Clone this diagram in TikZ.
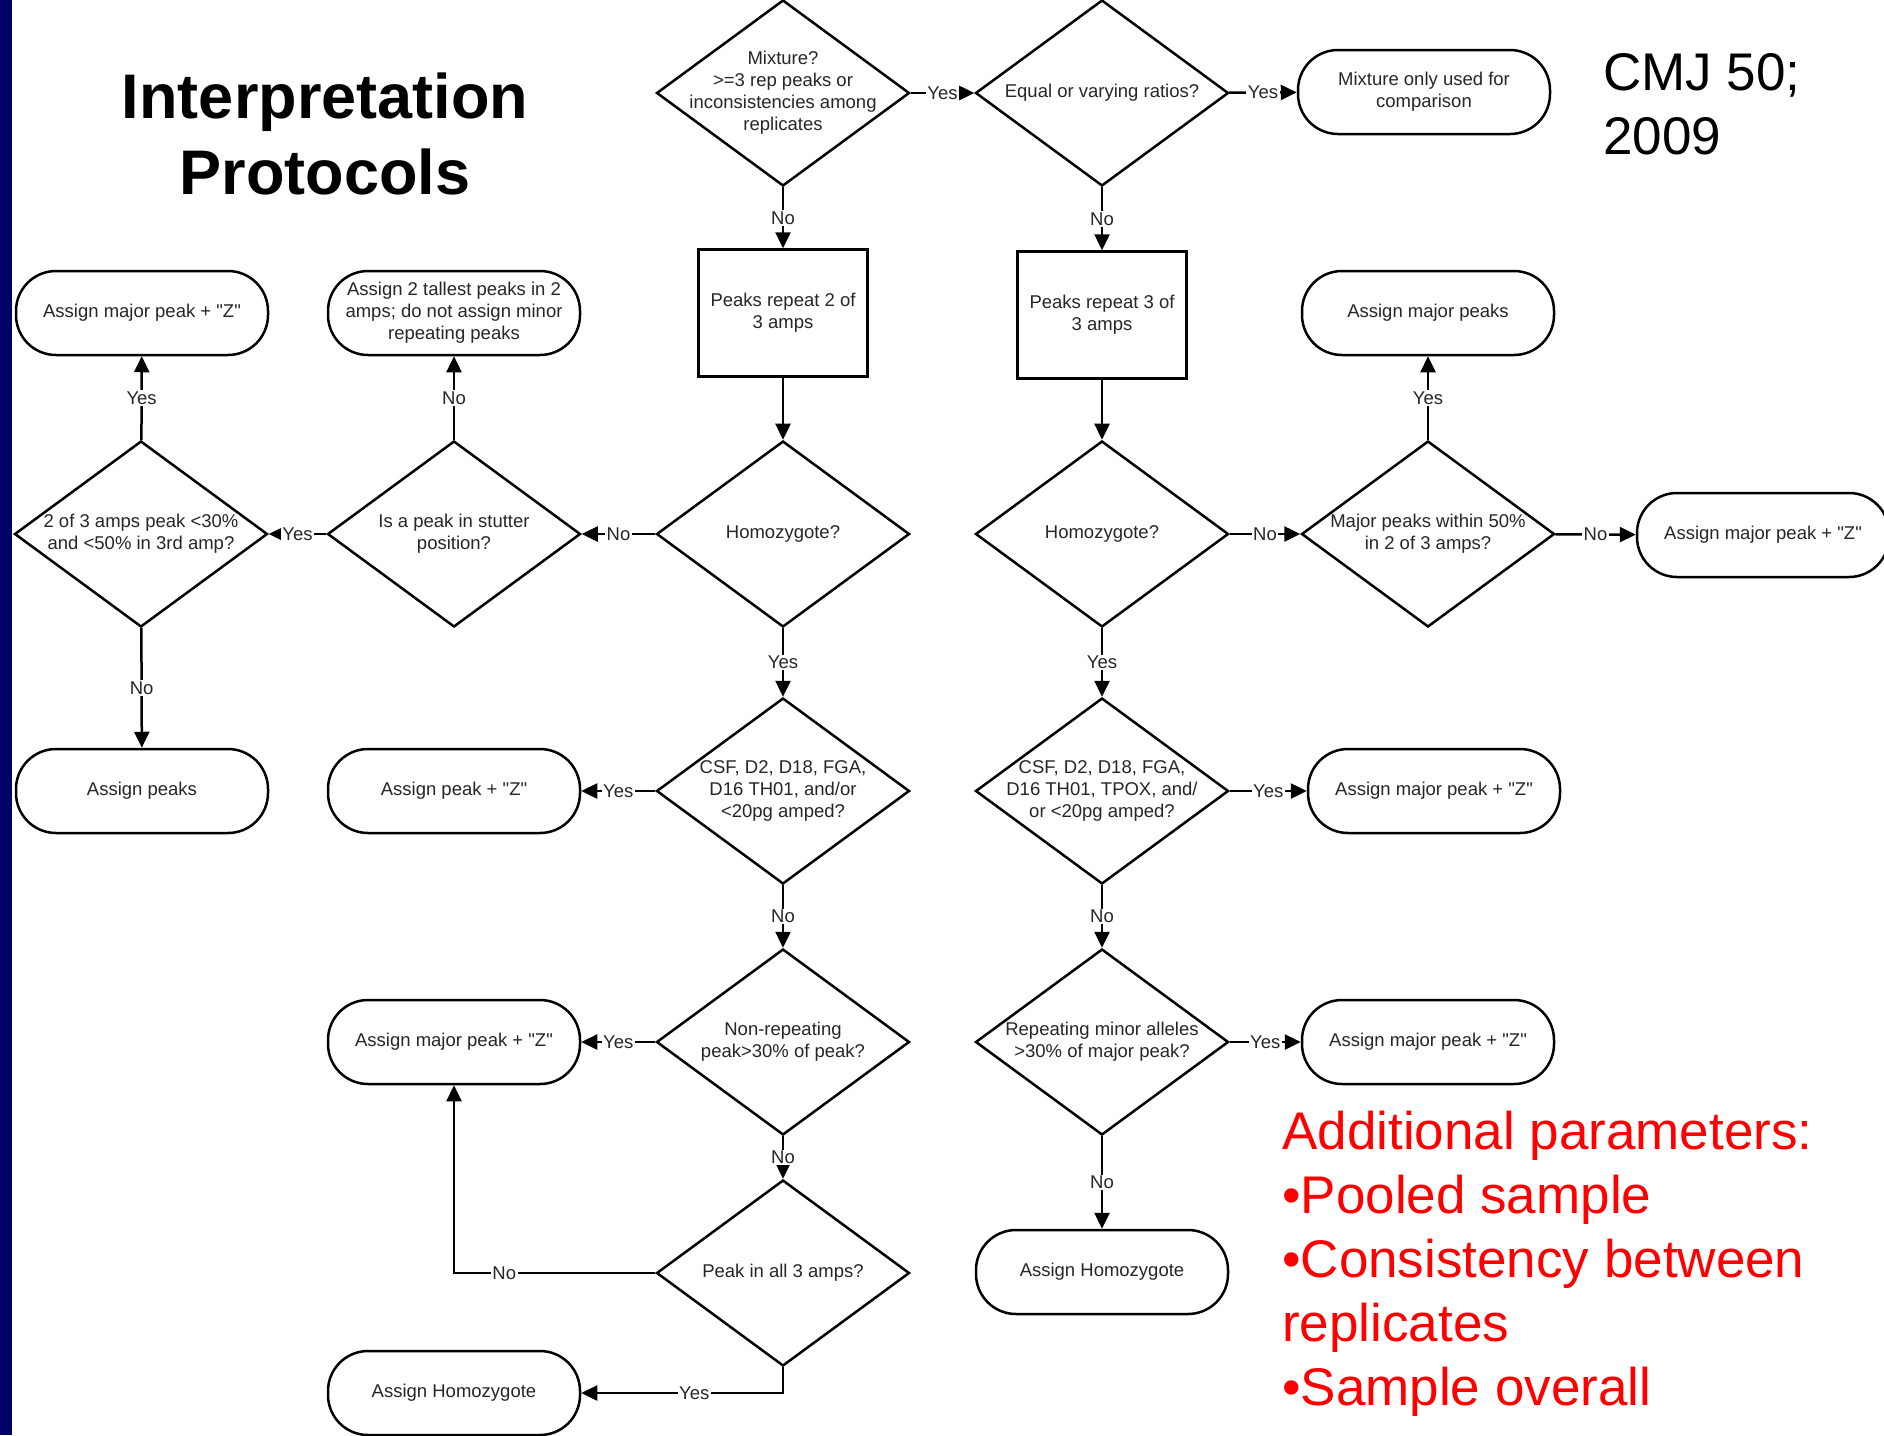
\documentclass[tikz,border=0pt]{standalone}
\usepackage{fontspec}
\setmainfont{Liberation Sans}[Ligatures=TeXOff]
\usetikzlibrary{arrows.meta,shapes.geometric}
\definecolor{barblue}{HTML}{000066}
\definecolor{notered}{HTML}{FF0000}
\newcommand{\flowsize}{\fontsize{18.5}{22}\selectfont}
\newcommand{\bigsize}{\fontsize{53}{64}\selectfont}

\begin{document}
\begin{tikzpicture}[x=1pt, y=-1pt,
  term/.style={draw, line width=2.5pt, rounded corners=40pt, minimum width=252pt, minimum height=84pt, align=center, font=\flowsize, text=black!85},
  proc/.style={draw, line width=2.5pt, minimum width=169pt, minimum height=127pt, align=center, font=\flowsize, text=black!85},
  decide/.style={draw, diamond, line width=2.5pt, minimum width=253pt, minimum height=186pt, inner sep=0pt, label={[font=\flowsize, text=black!85, align=center, inner sep=0pt]center:#1}},
  arrow/.style={-{Triangle[length=16pt, width=15pt]}, line width=2.5pt},
  ans/.style={fill=white, inner sep=1.5pt, font=\flowsize, text=black!85}
]
  % page and side bar
  \fill[white] (0,0) rectangle (1884,1435);
  \useasboundingbox (0,0) rectangle (1884,1435);
  \fill[barblue] (0,0) rectangle (12,1435);

  % headings
  \node[font=\bfseries\fontsize{63}{76}\selectfont, align=center, inner sep=0pt] (title) at (325,134) {Interpretation\\Protocols};
  \node[font=\bigsize, align=left, anchor=north west, inner sep=0pt] (cite) at (1603,53) {CMJ 50;\\2009};
  \node[font=\bigsize, text=notered, align=left, anchor=north west, inner sep=0pt] (extra) at (1282,1111)
    {Additional parameters:\\•Pooled sample\\•Consistency between\\replicates\\•Sample overall};

  % top row
  \node[decide={Mixture?\\>=3 rep peaks or\\inconsistencies among\\replicates}] (mix) at (783,93) {};
  \node[decide={Equal or varying ratios?}] (ratio) at (1102,93) {};
  \node[term] (mixonly) at (1424,92) {Mixture only used for\\comparison};

  % second row
  \node[term] (zmajA) at (142,313) {Assign major peak + "Z"};
  \node[term] (tallest) at (454,313) {Assign 2 tallest peaks in 2\\amps; do not assign minor\\repeating peaks};
  \node[proc] (rep2) at (783,313) {Peaks repeat 2 of\\3 amps};
  \node[proc] (rep3) at (1102,315) {Peaks repeat 3 of\\3 amps};
  \node[term] (majpk) at (1428,313) {Assign major peaks};

  % third row
  \node[decide={2 of 3 amps peak <30\%\\and <50\% in 3rd amp?}] (twoof3) at (141,534) {};
  \node[decide={Is a peak in stutter\\position?}] (stutter) at (454,534) {};
  \node[decide={Homozygote?}] (homoA) at (783,534) {};
  \node[decide={Homozygote?}] (homoB) at (1102,534) {};
  \node[decide={Major peaks within 50\%\\in 2 of 3 amps?}] (within) at (1428,534) {};
  \node[term] (zmajB) at (1763,535) {Assign major peak + "Z"};

  % fourth row
  \node[term] (asgpk) at (142,791) {Assign peaks};
  \node[term] (pkz) at (454,791) {Assign peak + "Z"};
  \node[decide={CSF, D2, D18, FGA,\\D16 TH01, and/or\\<20pg amped?}] (csfA) at (783,791) {};
  \node[decide={CSF, D2, D18, FGA,\\D16 TH01, TPOX, and/\\or <20pg amped?}] (csfB) at (1102,791) {};
  \node[term] (zmajC) at (1434,791) {Assign major peak + "Z"};

  % fifth row
  \node[term] (zmajD) at (454,1042) {Assign major peak + "Z"};
  \node[decide={Non-repeating\\peak>30\% of peak?}] (nonrep) at (783,1042) {};
  \node[decide={Repeating minor alleles\\>30\% of major peak?}] (repmin) at (1102,1042) {};
  \node[term] (zmajE) at (1428,1042) {Assign major peak + "Z"};

  % bottom rows
  \node[decide={Peak in all 3 amps?}] (allamp) at (783,1273) {};
  \node[term] (homozA) at (1102,1272) {Assign Homozygote};
  \node[term] (homozB) at (454,1393) {Assign Homozygote};

  % connectors
  \draw[arrow] (mix) -- node[ans] {Yes} (ratio);
  \draw[arrow] (ratio) -- node[ans] {Yes} (mixonly);
  \draw[arrow] (mix) -- node[ans] {No} (rep2);
  \draw[arrow] (ratio) -- node[ans] {No} (rep3);
  \draw[arrow] (rep2) -- (homoA);
  \draw[arrow] (rep3) -- (homoB);

  \draw[arrow] (homoA) -- node[ans] {No} (stutter);
  \draw[arrow] (stutter) -- node[ans] {Yes} (twoof3);
  \draw[arrow] (stutter) -- node[ans] {No} (tallest);
  \draw[arrow] (twoof3) -- node[ans] {Yes} (zmajA);
  \draw[arrow] (twoof3) -- node[ans] {No} (asgpk);
  \draw[arrow] (homoB) -- node[ans] {No} (within);
  \draw[arrow] (within) -- node[ans] {No} (zmajB);
  \draw[arrow] (within) -- node[ans] {Yes} (majpk);

  \draw[arrow] (homoA) -- node[ans] {Yes} (csfA);
  \draw[arrow] (homoB) -- node[ans] {Yes} (csfB);
  \draw[arrow] (csfA) -- node[ans] {Yes} (pkz);
  \draw[arrow] (csfB) -- node[ans] {Yes} (zmajC);
  \draw[arrow] (csfA) -- node[ans] {No} (nonrep);
  \draw[arrow] (csfB) -- node[ans] {No} (repmin);

  \draw[arrow] (nonrep) -- node[ans] {Yes} (zmajD);
  \draw[arrow] (repmin) -- node[ans] {Yes} (zmajE);
  \draw[arrow] (nonrep) -- node[ans] {No} (allamp);
  \draw[arrow] (repmin) -- node[ans] {No} (homozA);
  \draw[arrow] (allamp.west) -| node[ans, pos=0.375] {No} (zmajD.south);
  \draw[arrow] (allamp.south) |- node[ans, pos=0.72] {Yes} (homozB.east);
\end{tikzpicture}
\end{document}
